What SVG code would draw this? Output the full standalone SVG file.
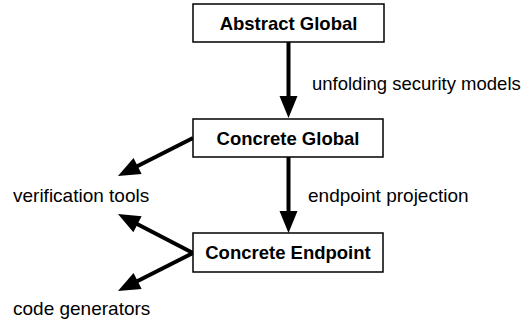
<svg xmlns="http://www.w3.org/2000/svg" width="526" height="325" viewBox="0 0 526 325">
  <style>
    .box { fill: #ffffff; stroke: #000000; stroke-width: 1.5; }
    .title { font-family: "Liberation Sans", Arial, Helvetica, sans-serif; font-weight: bold; font-size: 18.5px; fill: #000; text-anchor: middle; }
    .lbl { font-family: "Liberation Sans", Arial, Helvetica, sans-serif; font-size: 19px; fill: #000; }
    .edge { stroke: #000; stroke-width: 4; fill: none; marker-end: url(#arrow); }
  </style>
  <defs>
    <marker id="arrow" markerUnits="userSpaceOnUse" markerWidth="24" markerHeight="18" refX="1" refY="9" orient="auto" overflow="visible">
      <path d="M0,0 L22,9 L0,18 Z" fill="#000"/>
    </marker>
  </defs>
  <rect width="526" height="325" fill="#ffffff"/>
  <g id="connectors">
    <line class="edge" x1="288.5" y1="42" x2="288.5" y2="97"/>
    <line class="edge" x1="288.5" y1="157" x2="288.5" y2="212"/>
    <line class="edge" x1="193" y1="138" x2="136.7" y2="166.5"/>
    <line class="edge" x1="193" y1="253" x2="136.6" y2="223.7"/>
    <line class="edge" x1="193" y1="253" x2="136.7" y2="281.5"/>
  </g>
  <g id="abstract-global">
    <rect class="box" x="193" y="4" width="191" height="38"/>
    <text class="title" x="288.5" y="29.5">Abstract Global</text>
  </g>
  <g id="concrete-global">
    <rect class="box" x="193" y="119" width="190" height="38"/>
    <text class="title" x="288" y="144.5">Concrete Global</text>
  </g>
  <g id="concrete-endpoint">
    <rect class="box" x="193" y="233" width="190" height="39"/>
    <text class="title" x="288" y="259">Concrete Endpoint</text>
  </g>
  <g id="labels">
    <text class="lbl" x="312" y="90" style="font-size:18.5px">unfolding security models</text>
    <text class="lbl" x="308" y="202">endpoint projection</text>
    <text class="lbl" x="13" y="202">verification tools</text>
    <text class="lbl" x="13" y="315">code generators</text>
  </g>
</svg>
